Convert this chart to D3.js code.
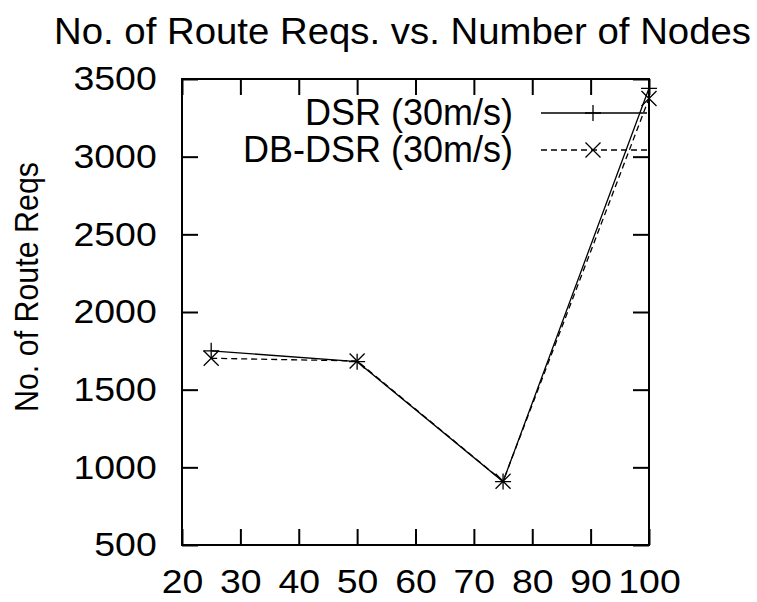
<!DOCTYPE html>
<html>
<head>
<meta charset="utf-8">
<script src="https://cdn.jsdelivr.net/npm/d3@7"></script>
<style>
  body { margin: 0; background: #fff; }
  svg { display: block; }
  text { font-family: "Liberation Sans", Arial, Helvetica, sans-serif; fill: #000; }
</style>
</head>
<body>
<svg id="chart" width="757" height="602"></svg>
<script>
// ---- data ----
const nodes = [25, 50, 75, 100];
const dsr = [1750, 1680, 908, 3440];
const dbdsr = [1702, 1685, 910, 3375];
const xTicks = [20, 30, 40, 50, 60, 70, 80, 90, 100];
const yTicks = [500, 1000, 1500, 2000, 2500, 3000, 3500];
const seriesNames = ["DSR (30m/s)", "DB-DSR (30m/s)"];
const titleText = "No. of Route Reqs. vs. Number of Nodes";
const yLabelText = "No. of Route Reqs";

// ---- layout ----
const L = 182, R = 649, T = 79, B = 545;
const tickFs = 34, legFs = 36, titleFs = 37, ylabFs = 34;
const svg = d3.select("#chart");
svg.append("rect").attr("width", 757).attr("height", 602).attr("fill", "#fff");

const x = d3.scaleLinear().domain([20, 100]).range([L, R]);
const y = d3.scaleLinear().domain([500, 3500]).range([B, T]);

function styleAxis(g) {
  g.select(".domain").remove();
  g.selectAll(".tick line").attr("stroke", "#000").attr("stroke-width", 2);
  g.selectAll(".tick text").style("font-size", tickFs + "px").attr("fill", "#000")
    .attr("transform", "scale(1.1,1)");
}

// bottom
svg.append("g").attr("transform", `translate(0,${B})`)
  .call(d3.axisBottom(x).tickValues(xTicks).tickSize(-16).tickSizeOuter(0).tickPadding(24).tickFormat(d3.format("d")))
  .call(styleAxis);
// top mirror
svg.append("g").attr("transform", `translate(0,${T})`)
  .call(d3.axisTop(x).tickValues(xTicks).tickSize(-16).tickSizeOuter(0).tickFormat(""))
  .call(styleAxis);
// left
svg.append("g").attr("transform", `translate(${L},0)`)
  .call(d3.axisLeft(y).tickValues(yTicks).tickSize(-16).tickSizeOuter(0).tickPadding(23).tickFormat(d3.format("d")))
  .call(styleAxis);
// right mirror
svg.append("g").attr("transform", `translate(${R},0)`)
  .call(d3.axisRight(y).tickValues(yTicks).tickSize(-16).tickSizeOuter(0).tickFormat(""))
  .call(styleAxis);

// border
svg.append("rect").attr("x", L).attr("y", T).attr("width", R - L).attr("height", B - T)
  .attr("fill", "none").attr("stroke", "#000").attr("stroke-width", 2);

// title
svg.append("text").attr("x", 54).attr("y", 44)
  .attr("textLength", 697).attr("lengthAdjust", "spacingAndGlyphs")
  .style("font-size", titleFs + "px").text(titleText);

// y label
svg.append("text").attr("transform", "translate(38,412) rotate(-90)")
  .attr("textLength", 250).attr("lengthAdjust", "spacingAndGlyphs")
  .style("font-size", ylabFs + "px").text(yLabelText);

// series
const line = d3.line().x(d => x(d[0])).y(d => y(d[1]));
const s1 = nodes.map((n, i) => [n, dsr[i]]);
const s2 = nodes.map((n, i) => [n, dbdsr[i]]);

svg.append("path").attr("d", line(s1)).attr("fill", "none").attr("stroke", "#000").attr("stroke-width", 1.3);
svg.append("path").attr("d", line(s2)).attr("fill", "none").attr("stroke", "#000").attr("stroke-width", 1.3)
  .attr("stroke-dasharray", "6,4");

const m = 8;
function plus(g, cx, cy) {
  g.append("path").attr("d", `M${cx - m},${cy}H${cx + m}M${cx},${cy - m}V${cy + m}`)
    .attr("stroke", "#000").attr("stroke-width", 1.3).attr("fill", "none");
}
function cross(g, cx, cy) {
  const k = 7.5;
  g.append("path").attr("d", `M${cx - k},${cy - k}L${cx + k},${cy + k}M${cx - k},${cy + k}L${cx + k},${cy - k}`)
    .attr("stroke", "#000").attr("stroke-width", 1.3).attr("fill", "none");
}
const mg = svg.append("g");
s1.forEach(d => plus(mg, x(d[0]), y(d[1])));
s2.forEach(d => cross(mg, x(d[0]), y(d[1])));

// legend
const lx0 = 541, lx1 = 647, lmx = 593, textX = 513;
const rows = [113, 150];
svg.append("text").attr("x", textX).attr("y", rows[0] + 12).attr("text-anchor", "end")
  .style("font-size", legFs + "px").text(seriesNames[0]);
svg.append("text").attr("x", textX).attr("y", rows[1] + 12).attr("text-anchor", "end")
  .style("font-size", legFs + "px").text(seriesNames[1]);
svg.append("line").attr("x1", lx0).attr("x2", lx1).attr("y1", rows[0]).attr("y2", rows[0])
  .attr("stroke", "#000").attr("stroke-width", 1.3);
svg.append("line").attr("x1", lx0).attr("x2", lx1).attr("y1", rows[1]).attr("y2", rows[1])
  .attr("stroke", "#000").attr("stroke-width", 1.3).attr("stroke-dasharray", "6,4");
plus(svg, lmx, rows[0]);
cross(svg, lmx, rows[1]);
</script>
</body>
</html>
